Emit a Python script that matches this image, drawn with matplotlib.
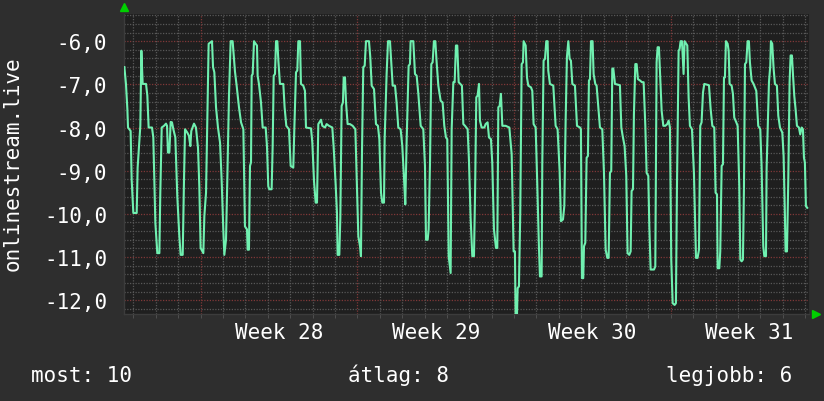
import matplotlib
matplotlib.use("Agg")
import matplotlib.pyplot as plt

# hours since Friday 00:00 of week 27, and the plotted value
hours = [
    -9.6, -7.9, -6.4, -5.7, -2.9, -1.8, 0.0, 3.6, 4.6, 7.5, 8.6, 10.0, 13.6, 15.0, 16.4, 20.0,
    21.4, 23.6, 25.7, 27.9, 28.9, 30.4, 32.9, 35.0, 36.1, 37.1, 38.6, 40.0, 41.4, 42.9, 45.0,
    47.1, 49.3, 50.7, 52.9, 54.3, 55.4, 57.9, 59.6, 61.1, 62.1, 65.0, 67.1, 69.3, 70.7, 72.1,
    75.0, 76.1, 77.9, 79.3, 80.7, 84.3, 85.4, 86.8, 88.6, 90.7, 92.9, 94.6, 96.4, 97.5, 99.3,
    100.7, 102.5, 104.3, 106.4, 108.9, 110.7, 113.2, 115.4, 117.9, 119.6, 121.8, 122.5, 123.9,
    125.0, 126.1, 126.8, 127.9, 129.3, 131.1, 132.5, 133.2, 134.6, 136.8, 138.6, 141.8, 143.2,
    144.6, 145.7, 148.2, 149.3, 150.4, 151.8, 152.9, 154.3, 155.4, 157.1, 160.7, 162.1, 163.9,
    166.8, 168.6, 171.4, 172.5, 174.3, 175.7, 176.8, 178.6, 179.6, 182.1, 183.9, 185.0, 190.4,
    191.8, 193.6, 195.4, 196.8, 198.2, 201.1, 202.5, 205.4, 207.1, 209.6, 213.2, 214.6, 216.8,
    218.2, 218.9, 220.7, 221.8, 223.2, 224.6, 225.4, 226.8, 227.9, 229.6, 232.1, 235.0, 237.9,
    239.3, 241.1, 242.9, 243.9, 245.0, 246.4, 247.9, 249.3, 252.5, 253.9, 255.4, 257.9, 260.0,
    262.1, 263.6, 265.4, 266.8, 268.6, 269.3, 271.4, 272.9, 275.0, 276.4, 277.9, 280.4, 282.1,
    283.9, 286.4, 288.2, 290.0, 291.4, 292.9, 295.0, 296.4, 297.1, 300.0, 301.8, 303.6, 305.4,
    307.9, 310.7, 312.5, 313.6, 315.4, 316.4, 317.9, 319.3, 320.7, 322.1, 323.6, 325.0, 326.8,
    329.3, 331.4, 333.2, 335.0, 336.4, 337.9, 340.0, 341.1, 342.9, 344.3, 345.7, 347.1, 348.6,
    352.1, 353.6, 355.4, 358.2, 359.6, 361.4, 363.2, 365.0, 366.1, 367.5, 368.9, 370.4, 371.4,
    373.2, 376.1, 377.5, 379.6, 381.1, 383.2, 384.6, 386.4, 388.6, 390.0, 391.1, 392.5, 393.9,
    395.4, 398.9, 402.9, 405.4, 407.5, 408.9, 409.6, 411.1, 411.8, 413.2, 414.6, 416.1, 417.5,
    418.2, 420.4, 421.8, 423.2, 426.1, 427.5, 428.9, 431.1, 432.5, 434.6, 435.7, 437.5, 438.2,
    439.6, 441.1, 442.5, 443.9, 444.6, 446.4, 450.0, 452.5, 454.6, 456.8, 458.2, 460.4, 461.8,
    463.2, 464.6, 466.1, 467.5, 468.9, 470.4, 473.2, 475.4, 478.6, 479.6, 480.7, 482.1, 482.9,
    484.3, 485.7, 487.1, 488.2, 489.3, 490.4, 492.1, 493.2, 495.0, 496.4, 498.2, 500.0, 502.5,
    504.3, 506.1, 507.9, 509.3, 510.7, 512.1, 513.2, 514.3, 516.1, 521.4, 522.9, 524.3, 526.4,
    528.2, 529.6, 531.4, 532.9, 533.9, 535.4, 536.4, 537.9, 539.3, 540.7, 542.9, 545.0, 546.8,
    548.6, 550.0, 551.8, 552.9, 554.3, 557.9, 559.3, 560.7, 561.8, 563.2, 564.3, 566.1, 567.9,
    570.0, 572.1, 573.6, 575.0, 576.4, 577.9, 580.0, 581.4, 582.5, 584.3, 585.4, 586.4, 587.9,
    588.9, 589.6, 590.7, 592.5, 593.6, 595.0, 596.4, 598.6, 600.7, 602.9, 604.6, 606.1, 607.5,
    608.9, 610.4, 611.8, 616.8, 618.6, 620.4, 622.5, 623.9, 625.4, 626.1, 627.9, 628.9, 630.4,
    631.8, 632.9, 633.9, 635.0, 636.8, 637.9, 638.9, 641.1, 642.5, 643.9, 646.1, 647.5, 649.3,
    650.4, 651.8, 653.2, 654.3, 655.4, 656.8, 658.2, 659.6, 660.7, 662.5, 664.6, 667.5, 669.6,
    671.8, 673.2, 675.0, 676.1, 677.9, 678.6, 681.1, 682.5, 683.2, 684.6, 686.1, 687.5, 689.6,
    691.1, 692.9, 695.4, 696.8, 698.2, 698.9, 700.4, 701.8, 703.2, 704.3, 705.7, 706.8, 708.2,
    709.6, 711.1, 713.2, 714.6, 716.1, 717.5, 718.6, 719.6, 720.7, 722.1,
]
values = [
    -6.6, -6.99, -7.57, -8.0, -8.08, -9.2, -9.98, -9.98, -8.93, -7.96, -6.22, -6.99, -6.99, -7.26, -8.0, -8.0,
    -8.23, -10.21, -10.91, -10.91, -9.51, -8.0, -7.96, -7.91, -7.96, -8.58, -8.58, -7.87, -7.88, -8.04, -8.23,
    -9.59, -10.52, -10.95, -10.95, -9.2, -8.04, -8.12, -8.19, -8.43, -8.08, -7.91, -8.0, -8.47, -9.36, -10.79,
    -10.91, -10.05, -9.51, -7.77, -6.06, -6.0, -6.6, -6.72, -7.53, -8.0, -8.35, -9.2, -10.36, -10.95, -10.6,
    -9.2, -7.26, -6.0, -6.0, -6.7, -7.03, -7.53, -7.88, -8.04, -10.29, -10.36, -10.83, -10.83,
    -8.89, -8.81, -6.8, -6.76, -6.0, -6.06, -6.1, -6.8, -6.99, -7.42, -8.0, -8.0, -8.43,
    -9.36, -9.43, -9.43, -8.43, -6.8, -6.76, -6.0, -6.0, -6.45, -6.99, -6.99, -7.53, -7.96,
    -8.04, -8.89, -8.93, -8.04, -6.72, -6.68, -6.0, -6.0, -6.99, -7.03, -7.15, -8.0, -8.02,
    -8.35, -9.24, -9.74, -9.74, -7.92, -7.82, -7.96, -8.0, -7.92, -7.96, -8.0, -8.43, -9.32,
    -9.98, -10.95, -10.95, -10.09, -7.5, -7.42, -6.84, -6.84, -7.42, -7.92, -7.92, -7.96, -8.04,
    -9.12, -10.52, -10.75, -10.98, -8.58, -6.6, -6.57, -6.0, -6.0, -6.37, -7.03, -7.11, -7.92,
    -7.96, -8.27, -9.51, -9.74, -9.74, -8.27, -6.76, -6.0, -6.0, -6.49, -7.03, -7.03, -7.42,
    -8.0, -8.04, -8.43, -9.16, -9.78, -8.27, -6.57, -6.53, -6.0, -6.0, -6.76, -6.8, -7.22,
    -7.96, -8.04, -8.89, -10.6, -10.6, -10.36, -8.81, -6.53, -6.49, -6.0, -6.0, -6.49, -7.03,
    -7.38, -7.42, -7.96, -8.23, -8.27, -10.98, -11.37, -8.04, -6.95, -6.95, -6.1, -6.1, -6.95,
    -7.03, -7.92, -7.96, -8.04, -8.74, -10.09, -10.98, -10.98, -9.63, -7.3, -7.26, -6.99, -7.84,
    -8.0, -8.0, -7.92, -7.88, -8.23, -8.27, -8.81, -10.36, -10.79, -10.79, -7.53, -7.5, -7.22,
    -7.96, -7.96, -8.0, -8.62, -10.87, -10.87, -12.34, -12.34, -11.72, -11.68, -9.98, -6.53, -6.49,
    -6.0, -6.1, -6.84, -7.03, -7.07, -7.15, -7.92, -8.0, -9.05, -10.75, -11.45, -11.45, -8.85,
    -6.45, -6.41, -6.0, -6.0, -6.68, -6.99, -7.03, -7.96, -8.04, -9.01, -10.17, -10.13, -9.82,
    -7.88, -6.37, -6.0, -6.41, -6.45, -6.99, -7.03, -7.96, -8.0, -8.04, -11.49, -11.49, -10.75,
    -10.67, -8.7, -8.66, -6.91, -6.88, -6.0, -6.0, -6.76, -6.99, -7.03, -7.53, -8.0, -8.04,
    -9.05, -10.83, -11.02, -11.02, -9.05, -9.01, -6.64, -6.63, -6.99, -7.02, -8.0, -8.19, -8.43,
    -9.12, -10.91, -10.95, -10.87, -9.47, -9.43, -7.69, -6.53, -6.53, -6.88, -6.91, -6.95, -6.95,
    -7.96, -9.05, -9.12, -10.29, -11.29, -11.29, -11.22, -6.49, -6.14, -6.14, -6.72, -7.61, -7.96,
    -7.96, -7.92, -7.84, -8.0, -11.06, -12.07, -12.11, -12.07, -9.4, -6.22, -6.18, -6.0, -6.0,
    -6.45, -6.76, -6.0, -6.06, -6.1, -7.3, -7.96, -8.04, -9.05, -11.02, -11.02, -10.83, -7.96,
    -7.88, -7.19, -6.99, -7.02, -7.57, -7.96, -8.0, -9.51, -9.55, -11.26, -11.26, -10.87, -8.89,
    -8.85, -6.84, -6.84, -6.0, -6.06, -6.22, -6.99, -7.03, -7.22, -7.77, -7.88, -7.96, -9.36,
    -11.06, -11.1, -11.06, -9.4, -6.53, -6.49, -6.0, -6.0, -6.49, -6.91, -6.99, -7.15, -7.96,
    -8.04, -8.89, -10.75, -10.98, -10.98, -8.93, -6.95, -6.57, -6.0, -6.06, -6.64, -6.99, -7.03,
    -7.73, -8.0, -8.12, -8.66, -10.05, -10.87, -10.87, -9.2, -6.95, -6.33, -6.33, -6.76, -7.26,
    -7.57, -7.96, -8.0, -8.16, -8.0, -8.04, -8.7, -8.81, -9.82, -9.86,
]

week_starts = [72, 240, 408, 576]
week_labels = ["Week 28", "Week 29", "Week 30", "Week 31"]
y_ticks = [-12, -11, -10, -9, -8, -7, -6]
stats = ["most: 10", "átlag: 8", "legjobb: 6"]
ylabel = "onlinestream.live"

BG = "#2e2e2e"
PLOT_BG = "#1f1f1f"
FONT = "DejaVu Sans Mono"

fig = plt.figure(figsize=(8.24, 4.02), dpi=100, facecolor=BG)
ax = fig.add_axes([124 / 824, 1 - 315 / 402, 685 / 824, 300 / 402])
ax.set_facecolor(PLOT_BG)

x_min, x_max = -10, 724
y_min, y_max = -12.32, -5.37
ax.set_xlim(x_min, x_max)
ax.set_ylim(y_min, y_max)

# grid: minor every 0.2 / every day, major every 1.0 / every week
dots = (0, (1, 1.2))
minor_col = "#585858"
major_col = "#803838"
for i in range(-61, -26):
    yv = i / 5
    col = major_col if i % 5 == 0 else minor_col
    ax.axhline(yv, color=col, lw=0.9, ls=dots, zorder=1)
for d in range(0, 31):
    h = d * 24
    col = major_col if h in week_starts else minor_col
    ax.axvline(h, color=col, lw=0.9, ls=dots, zorder=1)

ax.plot(hours, values, color="#70f0b0", lw=1.5, zorder=3)

for s in ["top", "right"]:
    ax.spines[s].set_visible(False)
for s in ["left", "bottom"]:
    ax.spines[s].set_color("#3c3c3c")
    ax.spines[s].set_linewidth(1)

label_pos = [w + 84 for w in week_starts]
ax.set_xticks(label_pos, week_labels)
ax.set_xticks(list(range(0, 721, 24)), minor=True)
ax.tick_params(axis="x", which="major", length=0, pad=6, colors="white", labelsize=15)
ax.tick_params(axis="x", which="minor", length=3, color="#555555")
ax.set_yticks(y_ticks, [f"{v:.1f}".replace(".", ",") for v in y_ticks])
ax.tick_params(axis="y", length=0, pad=12, colors="white", labelsize=15)
for lbl in ax.get_xticklabels() + ax.get_yticklabels():
    lbl.set_family(FONT)

# axis arrows
ax.plot([0], [1.022], marker="^", color="#00d000", ms=6, transform=ax.transAxes, clip_on=False)
ax.plot([1.0105], [0], marker=">", color="#00d000", ms=6, transform=ax.transAxes, clip_on=False)

fig.text(18.5 / 824, 1 - 164 / 402, ylabel, rotation=90, rotation_mode="anchor",
         ha="center", va="baseline", color="white", fontsize=15, family=FONT)

fig.text(31 / 824, 1 - 382 / 402, stats[0], ha="left", va="baseline", color="white", fontsize=15, family=FONT)
fig.text(398.5 / 824, 1 - 382 / 402, stats[1], ha="center", va="baseline", color="white", fontsize=15, family=FONT)
fig.text(792 / 824, 1 - 382 / 402, stats[2], ha="right", va="baseline", color="white", fontsize=15, family=FONT)

fig.savefig("out.png", dpi=100, facecolor=BG)
